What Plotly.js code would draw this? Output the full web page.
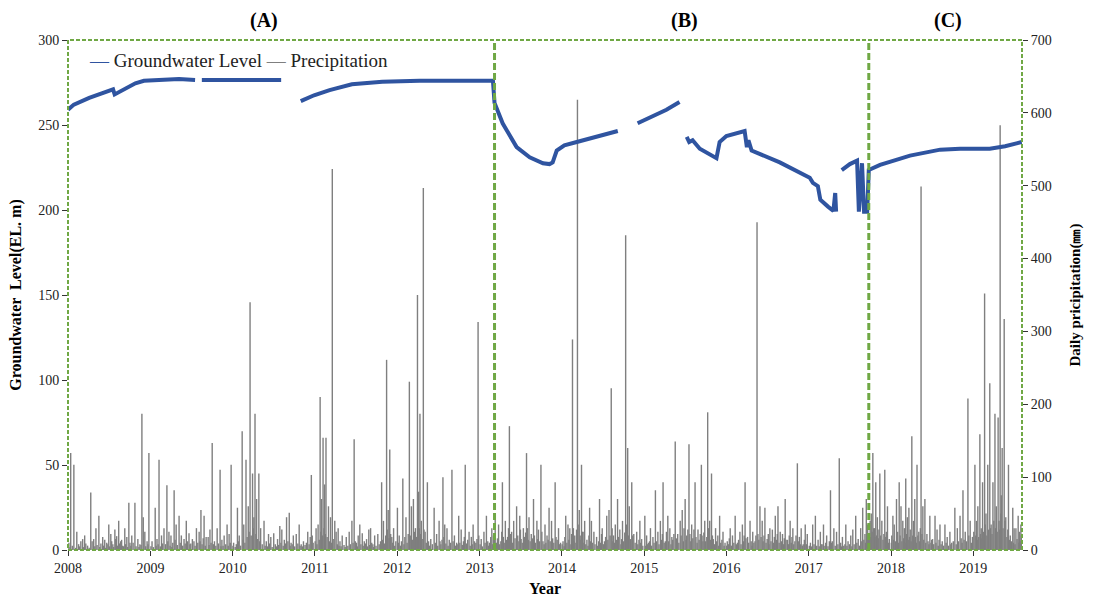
<!DOCTYPE html>
<html>
<head>
<meta charset="utf-8">
<script src="https://cdn.plot.ly/plotly-3.0.1.min.js"></script>
<style>
  html, body { margin: 0; padding: 0; background: #ffffff; }
  #chart { width: 1101px; height: 605px; }
</style>
</head>
<body>
<div id="chart"></div>
<script>
// Groundwater level (EL. m); null marks a gap in the record
const gwDates = [
  '2008-01-01','2008-01-27','2008-04-04','2008-06-09','2008-07-19','2008-07-26','2008-09-05','2008-10-26','2008-12-03',
  '2009-02-10','2009-05-08','2009-07-18', null, '2009-08-17','2010-01-30','2010-08-04', null,
  '2010-10-30','2010-12-28','2011-03-07','2011-06-14','2011-10-27','2012-04-09','2013-03-01',
  '2013-03-08','2013-04-13','2013-06-14','2013-08-11','2013-10-09','2013-11-07','2013-11-21','2013-12-09',
  '2014-01-12','2014-03-08','2014-05-27','2014-09-06', null,
  '2014-12-03','2015-04-10','2015-06-07', null,
  '2015-07-09','2015-07-20','2015-08-04','2015-09-05','2015-11-18','2015-12-02','2016-01-01','2016-03-22',
  '2016-04-01','2016-04-08','2016-04-22','2016-08-25','2017-01-05','2017-01-19','2017-02-10','2017-02-21',
  '2017-03-27','2017-04-20','2017-04-28','2017-05-02', null,
  '2017-05-27','2017-07-02','2017-08-03','2017-08-11','2017-08-25','2017-09-03','2017-09-17','2017-09-24',
  '2017-11-13','2018-03-26','2018-08-07','2018-11-03','2019-03-15','2019-05-22','2019-08-04'
];
const gwLevel = [
  259, 262, 266, 269, 271, 268, 271, 274.5, 276,
  276.5, 277, 276.5, null, 276.5, 276.5, 276.5, null,
  264, 267.5, 270.5, 274, 275.5, 276, 276,
  263, 251, 237, 231, 227.5, 227, 228, 235,
  238, 240, 243, 246.5, null,
  251, 259, 263.5, null,
  243, 240, 241, 236, 230.5, 240, 243.5, 246.5,
  237, 241, 235, 228, 219, 216, 214, 206,
  202, 199.5, 210, 199, null,
  223.5, 227, 229, 199, 227.5, 199, 199, 223.5,
  226.5, 232, 235.5, 236, 236, 237.5, 240
];

// Daily precipitation (mm) as [day of year, mm] for each year
const rain2008 = [[5,10],[10,4],[13,133],[20,6],[27,117],[35,3],[40,25],[48,8],[52,5],[58,12],[66,15],[70,4],[75,20],[80,9],[88,6],[95,3],[102,79],[108,12],[115,15],[120,5],[125,30],[130,7],[138,47],[142,4],[147,9],[155,18],[159,6],[164,14],[168,3],[173,10],[178,8],[182,35],[186,5],[191,22],[195,12],[200,8],[204,4],[209,28],[213,15],[217,19],[221,6],[226,40],[230,9],[235,12],[239,14],[244,6],[248,5],[253,30],[257,8],[262,18],[266,4],[271,65],[276,10],[280,6],[284,20],[290,10],[298,65],[303,5],[311,15],[316,4],[320,8],[325,7],[329,187],[335,45],[342,25],[346,5],[352,12],[356,8],[360,133]];
const rain2009 = [[3,5],[8,12],[14,4],[22,58],[26,6],[30,15],[35,8],[39,124],[45,5],[50,20],[55,9],[61,30],[68,8],[74,89],[78,12],[83,25],[88,6],[92,20],[96,4],[100,10],[106,82],[110,14],[115,35],[120,7],[128,47],[133,10],[138,20],[144,6],[150,15],[155,9],[160,40],[166,12],[172,23],[176,8],[180,9],[187,15],[194,12],[199,6],[205,30],[211,10],[217,25],[221,12],[225,55],[230,8],[235,16],[239,47],[244,6],[248,18],[257,18],[261,7],[265,28],[270,10],[275,147],[280,8],[285,12],[291,6],[297,30],[303,9],[310,110],[314,5],[318,14],[323,6],[328,20],[335,8],[341,35],[346,6],[350,22],[355,10],[359,117]];
const rain2010 = [[2,6],[5,10],[12,4],[17,8],[22,58],[26,12],[30,20],[36,6],[43,163],[47,14],[50,35],[55,10],[60,124],[65,18],[70,60],[74,25],[78,340],[83,20],[89,105],[92,30],[95,45],[100,187],[104,22],[107,70],[112,15],[117,105],[121,12],[125,30],[132,8],[140,40],[145,6],[150,12],[155,5],[160,22],[165,9],[170,18],[176,4],[183,23],[190,8],[195,5],[200,15],[205,7],[210,33],[215,10],[219,28],[225,6],[230,14],[235,9],[240,45],[246,12],[252,51],[256,6],[260,10],[265,8],[270,20],[276,5],[283,22],[290,9],[296,35],[300,6],[305,8],[310,5],[315,12],[322,7],[328,10],[334,25],[340,8],[345,18],[350,103],[354,20],[358,10]];
const rain2011 = [[2,12],[6,30],[10,8],[15,35],[20,14],[24,210],[27,25],[30,70],[34,20],[37,154],[41,30],[44,90],[47,22],[50,154],[55,18],[61,60],[65,12],[70,45],[74,10],[78,523],[82,15],[89,40],[95,25],[100,8],[104,30],[108,6],[112,12],[117,5],[122,20],[130,7],[135,4],[140,18],[147,6],[153,25],[158,8],[165,40],[170,10],[175,152],[180,12],[185,10],[189,5],[193,20],[200,35],[205,8],[211,23],[215,6],[220,12],[225,9],[230,15],[235,5],[240,28],[244,7],[248,30],[253,10],[258,8],[262,4],[266,20],[272,6],[280,22],[286,8],[292,12],[297,93],[301,14],[305,40],[310,9],[315,20],[319,261],[322,28],[326,55],[330,16],[333,138],[337,22],[342,18],[346,10],[350,30],[355,6],[360,12]];
const rain2012 = [[2,58],[6,10],[10,20],[15,6],[20,12],[26,98],[31,8],[35,18],[40,45],[45,10],[50,22],[55,231],[59,20],[64,60],[68,14],[73,70],[77,25],[82,30],[86,18],[91,350],[96,80],[99,30],[102,187],[105,22],[108,40],[112,15],[117,497],[120,28],[125,25],[130,10],[135,93],[140,12],[145,6],[150,15],[157,8],[165,58],[170,10],[176,22],[181,6],[187,40],[191,12],[195,8],[200,14],[204,100],[208,18],[212,35],[217,9],[222,30],[227,6],[232,14],[238,10],[244,110],[249,12],[255,20],[260,6],[265,10],[270,8],[274,47],[279,10],[285,28],[290,7],[295,12],[299,18],[303,117],[308,9],[314,14],[320,25],[325,6],[330,18],[334,8],[338,35],[344,12],[350,10],[355,15],[360,313],[363,20]];
const rain2013 = [[3,8],[8,15],[13,5],[20,25],[25,10],[31,47],[37,12],[41,6],[45,10],[50,18],[55,30],[58,8],[62,20],[66,14],[70,47],[75,10],[80,16],[85,35],[90,8],[95,12],[99,25],[102,93],[106,18],[110,10],[115,40],[120,14],[125,18],[129,30],[133,170],[137,22],[143,25],[147,10],[152,40],[158,16],[165,60],[170,20],[175,12],[179,47],[182,28],[185,15],[190,10],[195,30],[200,18],[205,24],[209,133],[213,30],[217,14],[220,45],[225,12],[230,22],[235,16],[240,70],[244,20],[248,10],[255,40],[258,15],[262,28],[267,12],[273,117],[277,25],[282,12],[287,8],[291,35],[295,10],[300,20],[305,14],[309,58],[314,12],[320,40],[325,16],[330,10],[336,93],[340,18],[345,14],[351,30],[356,8],[360,10]];
const rain2014 = [[2,8],[6,12],[11,5],[14,18],[18,47],[23,10],[28,35],[32,14],[36,30],[41,8],[44,22],[48,289],[52,30],[55,12],[58,20],[63,10],[66,28],[70,618],[73,35],[78,55],[82,20],[85,14],[88,117],[92,25],[95,25],[99,10],[102,40],[107,8],[112,14],[117,6],[121,20],[124,58],[128,12],[132,40],[137,10],[143,25],[148,8],[155,18],[160,6],[164,12],[168,70],[173,10],[177,22],[180,30],[185,8],[190,12],[195,18],[200,47],[205,14],[210,55],[215,20],[220,222],[224,30],[227,12],[230,20],[234,10],[238,35],[243,14],[248,70],[252,18],[258,28],[263,8],[266,15],[270,40],[275,12],[280,24],[284,432],[288,35],[293,140],[296,20],[300,60],[305,15],[311,93],[315,20],[320,22],[326,10],[333,25],[338,8],[343,14],[347,40],[351,10],[355,15],[360,6]];
const rain2015 = [[4,47],[8,6],[12,20],[16,8],[20,10],[25,12],[29,30],[34,6],[40,18],[45,10],[51,82],[56,12],[62,25],[67,8],[73,40],[78,14],[82,22],[85,93],[90,10],[95,12],[100,25],[106,47],[110,12],[115,30],[120,8],[124,18],[128,14],[133,22],[139,149],[144,16],[150,22],[155,10],[161,40],[165,20],[170,55],[175,12],[178,30],[183,70],[187,14],[190,20],[195,28],[200,145],[204,22],[208,12],[212,35],[217,16],[222,28],[227,93],[231,18],[236,10],[240,28],[245,14],[250,22],[255,117],[258,20],[262,12],[266,24],[270,40],[274,12],[279,18],[283,189],[287,30],[292,40],[296,14],[300,105],[304,20],[308,15],[313,8],[318,30],[323,12],[328,20],[332,6],[336,47],[341,10],[346,14],[351,25],[356,6],[360,10]];
const rain2016 = [[2,6],[5,12],[10,8],[14,16],[18,30],[23,6],[28,20],[34,10],[40,47],[45,8],[50,10],[55,14],[61,25],[66,8],[72,35],[77,12],[80,20],[84,93],[88,16],[95,18],[100,10],[106,40],[111,12],[115,6],[118,25],[123,10],[128,12],[132,20],[137,450],[141,22],[145,14],[150,60],[155,18],[160,40],[164,12],[168,20],[172,58],[177,10],[182,15],[187,22],[190,8],[194,30],[199,12],[205,28],[210,10],[214,18],[218,47],[223,14],[227,22],[230,60],[235,10],[240,25],[245,12],[250,22],[255,8],[258,16],[262,70],[266,14],[272,14],[277,8],[280,20],[284,40],[289,10],[292,18],[296,30],[300,8],[305,12],[310,20],[316,119],[320,12],[325,18],[329,8],[333,30],[338,6],[342,8],[347,14],[351,35],[356,8],[360,22]];
const rain2017 = [[3,6],[8,10],[13,5],[18,35],[24,8],[30,47],[36,6],[42,14],[47,5],[52,25],[56,8],[60,8],[66,35],[72,6],[76,10],[80,20],[86,5],[92,12],[97,82],[101,10],[105,12],[112,30],[118,6],[124,25],[130,8],[136,126],[142,10],[146,5],[150,18],[156,6],[161,8],[165,35],[170,6],[175,12],[181,8],[187,20],[192,5],[196,28],[202,8],[209,47],[214,10],[220,15],[226,6],[231,30],[236,12],[240,58],[245,14],[250,22],[253,10],[256,70],[259,18],[262,35],[266,14],[270,22],[273,40],[276,18],[278,50],[282,25],[285,133],[289,30],[292,30],[295,18],[298,93],[302,20],[305,45],[309,16],[312,28],[316,105],[320,20],[325,40],[330,14],[334,22],[338,110],[342,18],[345,25],[350,60],[354,10],[358,15]];
const rain2018 = [[2,10],[4,20],[9,47],[12,14],[15,35],[20,12],[25,70],[28,18],[30,25],[34,10],[37,93],[41,20],[45,60],[49,12],[53,40],[57,16],[60,30],[63,10],[66,98],[70,22],[73,45],[77,14],[80,58],[83,18],[86,28],[90,12],[93,156],[97,20],[100,40],[103,14],[106,70],[110,18],[113,10],[116,117],[120,20],[124,25],[128,12],[131,30],[134,499],[138,22],[142,60],[146,14],[151,70],[155,10],[160,22],[165,12],[169,8],[173,47],[178,10],[181,14],[185,15],[190,8],[196,47],[200,10],[205,28],[210,6],[214,14],[218,35],[223,8],[228,12],[234,6],[240,35],[245,10],[250,18],[256,6],[262,25],[266,8],[270,10],[277,12],[284,58],[290,8],[295,30],[300,12],[307,47],[312,16],[316,10],[320,82],[325,14],[330,25],[336,12],[342,208],[346,20],[352,40],[357,10],[362,18]];
const rain2019 = [[3,25],[8,117],[12,20],[15,40],[18,14],[21,60],[25,18],[30,159],[33,22],[36,30],[39,16],[42,93],[46,25],[51,352],[54,35],[57,50],[61,20],[65,117],[69,28],[74,229],[77,30],[80,35],[84,22],[88,93],[92,40],[97,187],[100,30],[103,60],[107,25],[111,182],[115,40],[118,28],[120,583],[123,50],[125,75],[129,140],[133,30],[138,317],[141,40],[145,45],[150,18],[154,28],[157,117],[161,14],[165,20],[170,12],[176,58],[179,10],[182,30],[186,8],[190,30],[195,15],[200,47],[203,10],[205,25],[209,12],[212,35],[214,20]];

const rainYears = [2008, 2009, 2010, 2011, 2012, 2013, 2014, 2015, 2016, 2017, 2018, 2019];
const rainSets = [rain2008, rain2009, rain2010, rain2011, rain2012, rain2013, rain2014, rain2015, rain2016, rain2017, rain2018, rain2019];

// Period boundaries and labels
const periodBreaks = ['2013-03-08', '2017-09-24'];
const periodLabels = ['(A)', '(B)', '(C)'];
const periodCenters = ['2010-05-20', '2015-07-01', '2018-09-10'];

// Series names and colours
const gwName = 'Groundwater Level';
const rainName = 'Precipitation';
const gwColor = '#2f54a0';
const rainColor = '#7f7f7f';

const serif = 'Liberation Serif, Times New Roman, serif';
const boxGreen = '#70a845';

// Each rain day becomes a thin vertical stem from 0 to its amount
const stemX = [], stemY = [];
rainSets.forEach((set, i) => {
  set.forEach(([doy, mm]) => {
    const d = new Date(Date.UTC(rainYears[i], 0, doy)).toISOString().slice(0, 10);
    stemX.push(d, d, null);
    stemY.push(0, mm, null);
  });
});

const precipTrace = {
  x: stemX, y: stemY, type: 'scatter', mode: 'lines',
  name: rainName, yaxis: 'y', showlegend: false,
  line: { color: rainColor, width: 1.4 },
  connectgaps: false, hoverinfo: 'skip'
};
const gwTrace = {
  x: gwDates, y: gwLevel, type: 'scatter', mode: 'lines',
  name: gwName, yaxis: 'y2', showlegend: false,
  line: { color: gwColor, width: 4 },
  connectgaps: false
};

const shapes = [
  { type: 'rect', xref: 'paper', yref: 'paper', x0: 0, x1: 1, y0: 0, y1: 1,
    line: { color: boxGreen, width: 2, dash: '4px,2px' } }
].concat(periodBreaks.map(d => ({
  type: 'line', xref: 'x', yref: 'paper', x0: d, x1: d, y0: 0, y1: 1,
  line: { color: boxGreen, width: 3, dash: '7px,3px' }
})));

const annotations = periodLabels.map((t, i) => ({
  text: '<b>' + t + '</b>', x: periodCenters[i], xref: 'x', y: 1.0, yref: 'paper',
  yanchor: 'bottom', yshift: 6, showarrow: false,
  font: { family: serif, size: 20, color: '#000' }
}));

// Inline key: a short dash in each series colour followed by its name
annotations.push({
  text: '<span style="color:' + gwColor + '">—</span> ' + gwName +
        ' <span style="color:' + rainColor + '">—</span> ' + rainName,
  xref: 'paper', yref: 'paper', x: 0.02, y: 0.96, xanchor: 'left', yanchor: 'middle',
  showarrow: false, font: { family: serif, size: 19, color: '#222' }
});

const layout = {
  width: 1101, height: 605,
  margin: { l: 68, r: 79, t: 40, b: 55 },
  paper_bgcolor: '#ffffff', plot_bgcolor: '#ffffff',
  font: { family: serif, size: 14, color: '#222' },
  showlegend: false,
  xaxis: {
    type: 'date', range: ['2008-01-01', '2019-08-05'],
    dtick: 'M12', tick0: '2008-01-01', tickformat: '%Y',
    ticks: 'outside', ticklen: 5, tickcolor: '#333',
    showgrid: false, zeroline: false, showline: false,
    tickfont: { family: serif, size: 14, color: '#222' },
    title: { text: '<b>Year</b>', font: { family: serif, size: 16, color: '#000' }, standoff: 8 }
  },
  yaxis: {
    side: 'right', range: [0, 700], dtick: 100,
    ticks: 'outside', ticklen: 5, tickcolor: '#333',
    showgrid: false, zeroline: false, showline: false,
    tickfont: { family: serif, size: 14, color: '#222' },
    title: { text: '<b>Daily pricipitation(㎜)</b>', font: { family: serif, size: 15, color: '#000' }, standoff: 18 }
  },
  yaxis2: {
    side: 'left', overlaying: 'y', range: [0, 300], dtick: 50,
    ticks: 'outside', ticklen: 5, tickcolor: '#333',
    showgrid: false, zeroline: false, showline: false,
    tickfont: { family: serif, size: 14, color: '#222' },
    title: { text: '<b>Groundwater  Level(EL. m)</b>', font: { family: serif, size: 16, color: '#000' }, standoff: 12 }
  },
  shapes: shapes,
  annotations: annotations
};

Plotly.newPlot('chart', [precipTrace, gwTrace], layout, { displayModeBar: false, staticPlot: true });
</script>
</body>
</html>
